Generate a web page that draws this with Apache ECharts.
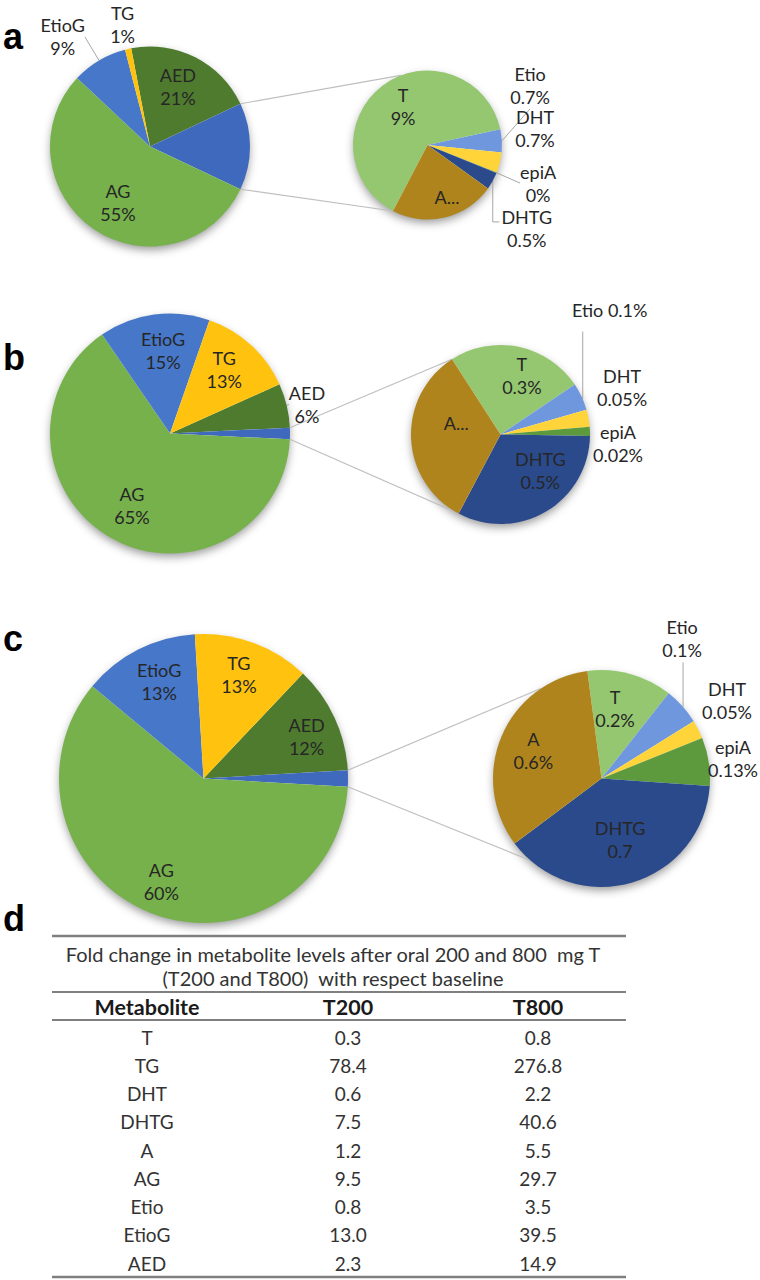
<!DOCTYPE html>
<html>
<head>
<meta charset="utf-8">
<script src="https://cdn.jsdelivr.net/npm/echarts@6/dist/echarts.min.js"></script>
<style>
html,body{margin:0;padding:0;background:#ffffff;}
#c{width:760px;height:1280px;}
</style>
</head>
<body>
<div id="c"></div>
<script>
// ================= DATA =================
const mainNames = ['AED', 'Other', 'AG', 'EtioG', 'TG'];
const secNames  = ['T', 'Etio', 'DHT', 'epiA', 'DHTG', 'A'];

// panel a (main pie; "Other" = sum of secondary pie)
const aMain = { AED: 21, AG: 55, EtioG: 9, TG: 1 };
const aSec  = [9, 0.7, 0.62, 0.02, 0.53, 3.2];
const aMainLabels = ['AED\n21%', '', 'AG\n55%', 'EtioG\n9%', 'TG\n1%'];
const aSecLabels  = ['T\n9%', 'Etio\n0.7%', 'DHT\n0.7%', 'epiA\n0%', 'DHTG\n0.5%', 'A...'];

// panel b
const bMain = { AED: 6, AG: 65, EtioG: 15, TG: 13 };
const bSec  = [0.38, 0.076, 0.048, 0.025, 0.5, 0.51];
const bMainLabels = ['AED\n6%', '', 'AG\n65%', 'EtioG\n15%', 'TG\n13%'];
const bSecLabels  = ['T\n0.3%', 'Etio 0.1%', 'DHT\n0.05%', 'epiA\n0.02%', 'DHTG\n0.5%', 'A...'];

// panel c
const cMain = { AED: 12, AG: 60, EtioG: 13, TG: 13 };
const cSec  = [0.23, 0.1, 0.05, 0.13, 0.7, 0.6];
const cMainLabels = ['AED\n12%', '', 'AG\n60%', 'EtioG\n13%', 'TG\n13%'];
const cSecLabels  = ['T\n0.2%', 'Etio\n0.1%', 'DHT\n0.05%', 'epiA\n0.13%', 'DHTG\n0.7', 'A\n0.6%'];

// panel d (table)
const tableTitle = ['Fold change in metabolite levels after oral 200 and 800  mg T',
                    '(T200 and T800)  with respect baseline'];
const tableHeader = ['Metabolite', 'T200', 'T800'];
const metabolites = ['T', 'TG', 'DHT', 'DHTG', 'A', 'AG', 'Etio', 'EtioG', 'AED'];
const t200 = ['0.3', '78.4', '0.6', '7.5', '1.2', '9.5', '0.8', '13.0', '2.3'];
const t800 = ['0.8', '276.8', '2.2', '40.6', '5.5', '29.7', '3.5', '39.5', '14.9'];

// ================= STYLE / LAYOUT =================
const colors = {
  AED: '#4F7B2F', Other: '#3E69BC', AG: '#76B14B', EtioG: '#4777C8', TG: '#FFC30F',
  T: '#95C771', Etio: '#6E97DD', DHT: '#FFD43B', epiA: '#5D9A3D', DHTG: '#2A4A8B', A: '#AF841C'
};
const labelFont = 'Lato, "Open Sans", sans-serif';

// label placement: k = fraction of radius, d = angular shift (deg, clockwise) from slice middle
// vline: leader line drawn vertically at label x + dx (optionally with an elbow at label y + dy)
const panels = [
  { letter: 'a', letterY: 36, mainVals: aMain, secVals: aSec, mainLabels: aMainLabels, secLabels: aSecLabels,
    main: { center: [150, 146.5], r: 100,
      labels: [{k: 0.66, d: -1.9}, null, {k: 0.645, d: -4.5}, {k: 1.4, d: -7.9, line: true}, {k: 1.25, d: 0}] },
    sec: { center: [427.5, 145], r: 74.5, fromNorth: 207.6,
      labels: [{k: 0.61, d: 4.8}, {k: 1.59, d: -26.8, line: true}, {k: 1.46, d: -22.4}, {k: 1.57, d: -2.9, line: true},
               {k: 1.74, d: 11.1, line: true, vline: {dx: -34, dy: -6.5, below: true}}, {k: 0.745, d: -7.3}] },
    link: [339, 207.6] },
  { letter: 'b', letterY: 357, mainVals: bMain, secVals: bSec, mainLabels: bMainLabels, secLabels: bSecLabels,
    main: { center: [170, 433.5], r: 120,
      labels: [{k: 1.167, d: 1.5, line: true}, null, {k: 0.68, d: -1.3}, {k: 0.69, d: 2.85}, {k: 0.70, d: -2.3}] },
    sec: { center: [500.5, 434.5], r: 89.5, fromNorth: 327.2,
      labels: [{k: 0.70, d: 8.35}, {k: 1.85, d: -23.7, line: true, vline: {dx: -27, gap: 10}}, {k: 1.455, d: -10.5},
               {k: 1.317, d: 6.4}, {k: 0.6, d: -17.2}, {k: 0.51, d: 16.9}] },
    link: [327.2, 208.6] },
  { letter: 'c', letterY: 638, mainVals: cMain, secVals: cSec, mainLabels: cMainLabels, secLabels: cSecLabels,
    main: { center: [203.5, 778.5], r: 144.5,
      labels: [{k: 0.77, d: 2.8}, null, {k: 0.77, d: 0.8}, {k: 0.74, d: 2.4}, {k: 0.76, d: -1.2}] },
    sec: { center: [601.5, 778.5], r: 108.5, fromNorth: 352.5,
      labels: [{k: 0.66, d: -4.5}, {k: 1.49, d: -18.3, line: true, vline: {dx: 1, gap: 1}}, {k: 1.36, d: -4.8},
               {k: 1.226, d: 0.4}, {k: 0.59, d: -0.5}, {k: 0.68, d: -0.2}] },
    link: [326, 221] }
];

const chart = echarts.init(document.getElementById('c'), null, { renderer: 'svg', width: 760, height: 1280 });
const seriesList = [];

function sliceLayout(si, di) {
  try {
    const l = chart.getModel().getSeriesByIndex(si).getData().getItemLayout(di);
    if (l && isFinite(l.cx) && isFinite(l.startAngle)) return l;
  } catch (e) {}
  const s = seriesList[si];
  const vals = s.data.map(d => d.value);
  const sum = vals.reduce((a, b) => a + b, 0);
  let a = -s.startAngle * Math.PI / 180;
  for (let i = 0; i < di; i++) a += vals[i] / sum * 2 * Math.PI;
  return { cx: s.center[0], cy: s.center[1], r: s.radius, startAngle: a, endAngle: a + vals[di] / sum * 2 * Math.PI };
}

function makePie(names, values, labels, cfg, startAngle) {
  const si = seriesList.length;
  const s = {
    type: 'pie', center: cfg.center, radius: cfg.r, startAngle: startAngle, clockwise: true,
    avoidLabelOverlap: false, silent: true, animation: false, z: 3,
    label: { show: true, position: 'outside', overflow: 'none', fontFamily: labelFont, fontSize: 18,
             lineHeight: 23, color: '#262626' },
    labelLine: { show: true, length: 0, length2: 0, smooth: false, lineStyle: { color: '#a6a6a6', width: 1 } },
    itemStyle: { borderWidth: 0 },
    labelLayout: function (p) {
      const L = cfg.labels[p.dataIndex];
      if (!L) return {};
      const lay = sliceLayout(si, p.dataIndex);
      const mid = (lay.startAngle + lay.endAngle) / 2 + L.d * Math.PI / 180;
      const x = lay.cx + L.k * lay.r * Math.cos(mid);
      const y = lay.cy + L.k * lay.r * Math.sin(mid);
      const res = { x: x, y: y, align: 'center', verticalAlign: 'middle' };
      if (L.vline) {
        const lx = x + L.vline.dx;
        const ddx = lx - lay.cx;
        const h = Math.sqrt(Math.max(0, lay.r * lay.r - ddx * ddx));
        const yEdge = L.vline.below ? lay.cy + h : lay.cy - h;
        if (L.vline.dy != null) {
          res.labelLinePoints = [[lx, yEdge], [lx, y + L.vline.dy], [x - p.labelRect.width / 2 - 2, y + L.vline.dy]];
        } else {
          res.labelLinePoints = [[lx, yEdge], [lx, y + p.labelRect.height / 2 + (L.vline.gap || 2)]];
        }
      }
      return res;
    },
    data: names.map((n, i) => ({
      name: n, value: values[i], itemStyle: { color: colors[n] },
      label: { show: !!cfg.labels[i], formatter: labels[i] || '' },
      labelLine: { show: !!(cfg.labels[i] && cfg.labels[i].line) }
    }))
  };
  seriesList.push(s);
  return s;
}

const graphics = [];
panels.forEach(P => {
  const secSum = P.secVals.reduce((a, b) => a + b, 0);
  const mv = mainNames.map(n => n === 'Other' ? secSum : P.mainVals[n]);
  const total = mv.reduce((a, b) => a + b, 0);
  // rotate main pie so the "Other" slice is centred on the 3 o'clock direction
  const mainStart = (mv[0] + mv[1] / 2) / total * 360;
  makePie(mainNames, mv, P.mainLabels, P.main, mainStart);
  makePie(secNames, P.secVals, P.secLabels, P.sec, 90 - P.sec.fromNorth);
  // soft shadows under the pies
  [P.main, P.sec].forEach(c => graphics.push({
    type: 'circle', z: 1, silent: true,
    shape: { cx: c.center[0], cy: c.center[1], r: c.r - 1 },
    style: { fill: '#ffffff', shadowBlur: 10, shadowOffsetY: 4, shadowColor: 'rgba(0,0,0,0.42)' }
  }));
  graphics.push({
    type: 'text', z: 10, silent: true,
    style: { text: P.letter, x: 3, y: P.letterY, fill: '#000', fontFamily: 'Liberation Sans, Arial, sans-serif',
             fontWeight: 'bold', fontSize: 36, textAlign: 'left', textVerticalAlign: 'middle' }
  });
});

// ---- table (panel d) ----
const tb = { left: 52, right: 626, top: 936, titleY: [954, 978], line2: 992, headY: 1007, line3: 1020,
             rowY0: 1037, rowStep: 28.25, bottom: 1277, colX: [147, 348, 538] };
const tblFont = 'Lato, "Open Sans", sans-serif';
graphics.push({ type: 'text', z: 10, silent: true,
  style: { text: 'd', x: 3, y: 918, fill: '#000', fontFamily: 'Liberation Sans, Arial, sans-serif',
           fontWeight: 'bold', fontSize: 36, textAlign: 'left', textVerticalAlign: 'middle' } });
[[tb.top, 2.5], [tb.line2, 2], [tb.line3, 2], [tb.bottom, 2.5]].forEach(([y, w]) => graphics.push({
  type: 'line', z: 10, silent: true, shape: { x1: tb.left, y1: y, x2: tb.right, y2: y },
  style: { stroke: '#7f7f7f', lineWidth: w }
}));
tableTitle.forEach((t, i) => graphics.push({ type: 'text', z: 10, silent: true,
  style: { text: t, x: (tb.left + tb.right) / 2 - 6, y: tb.titleY[i], fill: '#333', fontFamily: tblFont, fontSize: 20,
           textAlign: 'center', textVerticalAlign: 'middle' } }));
tableHeader.forEach((t, i) => graphics.push({ type: 'text', z: 10, silent: true,
  style: { text: t, x: tb.colX[i], y: tb.headY, fill: '#1a1a1a', fontFamily: tblFont, fontWeight: 'bold', fontSize: 21.5,
           textAlign: 'center', textVerticalAlign: 'middle' } }));
metabolites.forEach((m, r) => {
  [m, t200[r], t800[r]].forEach((t, i) => graphics.push({ type: 'text', z: 10, silent: true,
    style: { text: t, x: tb.colX[i], y: tb.rowY0 + r * tb.rowStep, fill: '#333', fontFamily: tblFont, fontSize: 19,
             textAlign: 'center', textVerticalAlign: 'middle' } }));
});

chart.setOption({ animation: false, backgroundColor: '#ffffff', series: seriesList, graphic: graphics });

// ---- connector lines from the "Other" slice to the secondary pie ----
const links = [];
panels.forEach((P, pi) => {
  const o = sliceLayout(pi * 2, 1);
  const s0 = sliceLayout(pi * 2 + 1, 0);
  const p1 = [o.cx + o.r * Math.cos(o.startAngle), o.cy + o.r * Math.sin(o.startAngle)];
  const p2 = [o.cx + o.r * Math.cos(o.endAngle), o.cy + o.r * Math.sin(o.endAngle)];
  const onSec = deg => { const a = (deg - 90) * Math.PI / 180; return [s0.cx + s0.r * Math.cos(a), s0.cy + s0.r * Math.sin(a)]; };
  const q1 = onSec(P.link[0]), q2 = onSec(P.link[1]);
  [[p1, q1], [p2, q2]].forEach(([a, b]) => links.push({
    type: 'line', z: 2, silent: true, shape: { x1: a[0], y1: a[1], x2: b[0], y2: b[1] },
    style: { stroke: '#bfbfbf', lineWidth: 1.2 }
  }));
});
chart.setOption({ graphic: graphics.concat(links) }, { replaceMerge: ['graphic'] });
</script>
</body>
</html>
